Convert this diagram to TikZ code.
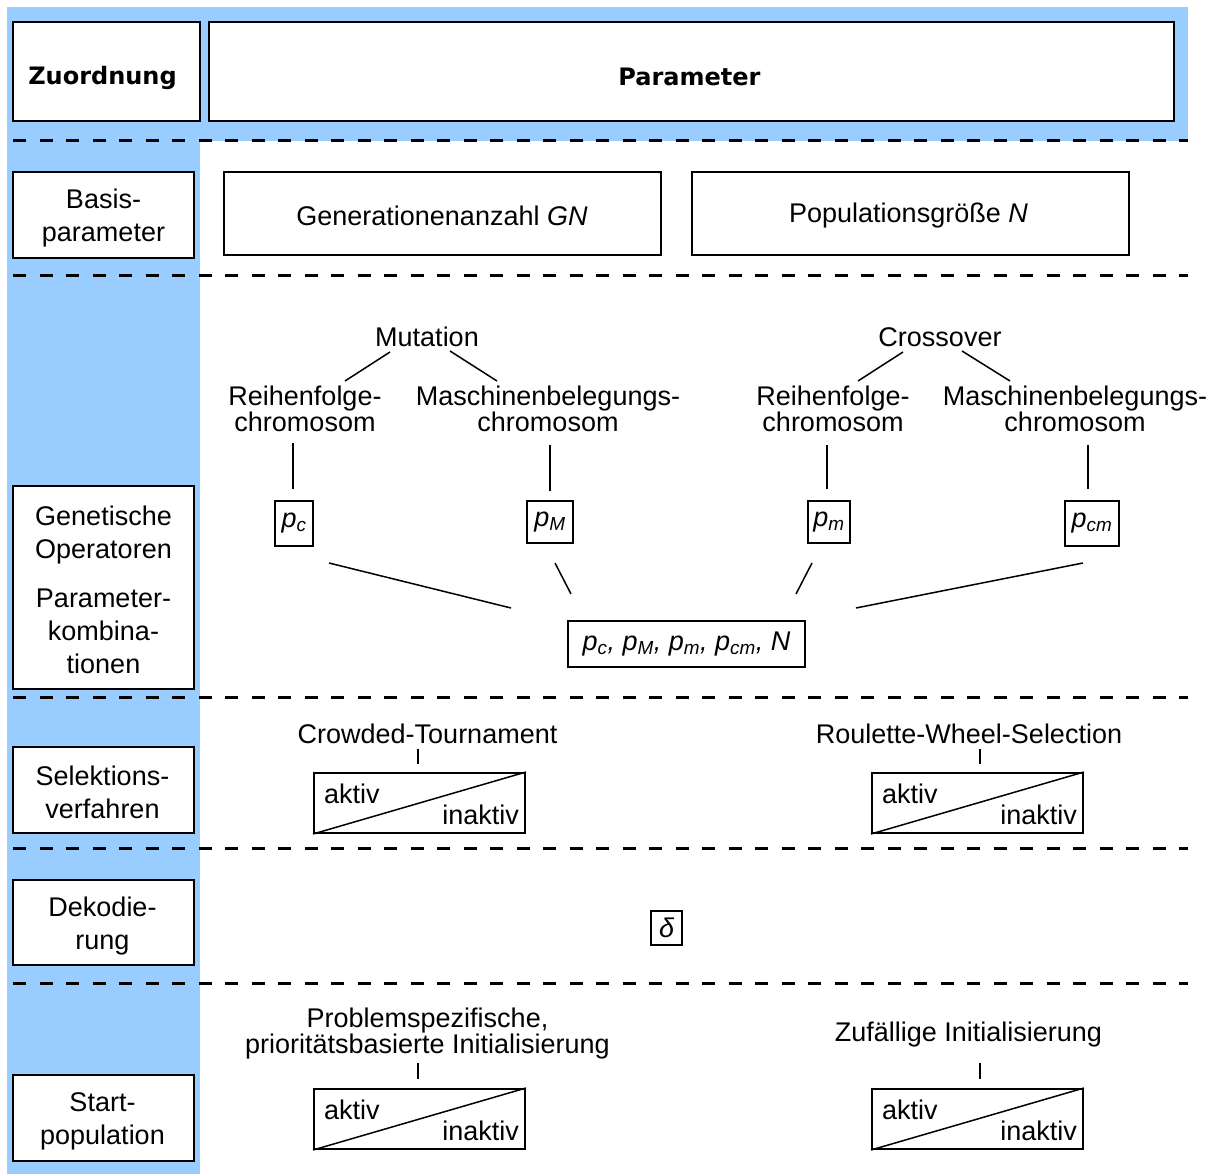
\documentclass[tikz,border=0pt]{standalone}
\usepackage{fontspec}
\setmainfont{Liberation Sans}
\newfontfamily\hdfont{DejaVu Sans}
\definecolor{bandblue}{RGB}{153,204,255}
\tikzset{
 every node/.style={inner sep=0pt, font=\fontsize{27}{33}\selectfont},
 labelbox/.style={draw, line width=2pt, fill=white, minimum width=181pt},
 labeltext/.style={align=center},
 headbox/.style={draw, line width=2.5pt, fill=white, minimum height=99pt},
 headtext/.style={font=\hdfont\bfseries\fontsize{24}{28}\selectfont},
 parbox/.style={draw, line width=2pt, minimum height=83pt, minimum width=437pt},
 sep/.style={dash pattern=on 13pt off 13.5pt, line width=3pt},
 conn/.style={line width=1.5pt},
 pbox/.style={draw, line width=1.8pt, font=\itshape\fontsize{27}{33}\selectfont},
 toggle/.style={draw, line width=2pt, minimum width=211pt, minimum height=60pt},
 tight/.style={align=center, font=\fontsize{27}{24}\selectfont},
}
\begin{document}
\begin{tikzpicture}[x=1pt,y=-1pt]
\useasboundingbox[fill=white] (0,0) rectangle (1216,1174);
% blue background
\fill[bandblue] (7,7) rectangle (1188,141);
\fill[bandblue] (7,141) rectangle (200,1174);
% header
\node[headbox, minimum width=187pt] (hz) at (106.5,71.5) {};
\node[headbox, minimum width=965pt] (hp) at (691.5,71.5) {};
\node[headtext] (hzt) at (102.5,78) {Zuordnung};
\node[headtext] (hpt) at (689.5,77) {Parameter};
% separators
\foreach \yy in {141,276,697,848,983} \draw[sep] (13,\yy) -- (1188,\yy);
% left labels
\node[labelbox, minimum height=86pt] (lb1) at (103.5,215) {};
\node[labeltext] (lt1) at (103.5,218) {Basis-\\parameter};
\node[labelbox, minimum height=203pt] (lb2) at (103.5,587.5) {};
\node[labeltext] (lt2) at (103.5,590) {Genetische\\Operatoren\\[16pt]Parameter-\\kombina-\\tionen};
\node[labelbox, minimum height=86pt] (lb3) at (103.5,790) {};
\node[labeltext] (lt3) at (102.5,792.5) {Selektions-\\verfahren};
\node[labelbox, minimum height=85pt] (lb4) at (103.5,922.5) {};
\node[labeltext] (lt4) at (102.5,926) {Dekodie-\\rung};
\node[labelbox, minimum height=86pt] (lb5) at (103.5,1118) {};
\node[labeltext] (lt5) at (102.5,1121) {Start-\\population};
% basis parameters
\node[parbox] (gn) at (442.5,213.5) {};
\node (gnt) at (442,216) {Generationenanzahl \textit{GN}};
\node[parbox] (pn) at (910,213.5) {};
\node (pnt) at (908.5,216) {Populationsgröße \textit{N}};
% genetic operators
\node (mut) at (427,337) {Mutation};
\node (cro) at (940,337) {Crossover};
\node[tight] (mrf) at (305,409) {Reihenfolge-\\chromosom};
\node[tight] (mmb) at (548,409) {Maschinenbelegungs-\\chromosom};
\node[tight] (crf) at (833,409) {Reihenfolge-\\chromosom};
\node[tight] (cmb) at (1075,409) {Maschinenbelegungs-\\chromosom};
\coordinate (m1a) at (390,352); \coordinate (m1b) at (345,381);
\coordinate (m2a) at (450,351); \coordinate (m2b) at (497,381);
\coordinate (c1a) at (903,352); \coordinate (c1b) at (858,381);
\coordinate (c2a) at (962,351); \coordinate (c2b) at (1010,381);
\draw[conn] (m1a) -- (m1b);
\draw[conn] (m2a) -- (m2b);
\draw[conn] (c1a) -- (c1b);
\draw[conn] (c2a) -- (c2b);
\node[pbox, minimum width=38pt, minimum height=45pt] (pc) at (294,523.5) {p\textsubscript{c}};
\node[pbox, minimum width=46pt, minimum height=42pt] (pM) at (550,522) {p\textsubscript{M}};
\node[pbox, minimum width=42pt, minimum height=42pt] (pm) at (829,522) {p\textsubscript{m}};
\node[pbox, minimum width=54pt, minimum height=45pt] (pcm) at (1092,523.5) {p\textsubscript{cm}};
\draw[conn] ([xshift=-1pt,yshift=11pt]pc.north) -- ++(0,-46);
\draw[conn] ([yshift=9pt]pM.north) -- ++(0,-46);
\draw[conn] ([xshift=-2pt,yshift=11pt]pm.north) -- ++(0,-44);
\draw[conn] ([xshift=-4pt,yshift=11pt]pcm.north) -- ++(0,-44);
\node[pbox, minimum width=237pt, minimum height=46pt] (comb) at (686.5,644) {p\textsubscript{c}, p\textsubscript{M}, p\textsubscript{m}, p\textsubscript{cm}, N};
\coordinate (s1a) at (329,563); \coordinate (s1b) at (511,608);
\coordinate (s2a) at (555,563); \coordinate (s2b) at (571,594);
\coordinate (s3a) at (812,563); \coordinate (s3b) at (796,594);
\coordinate (s4a) at (1083,563); \coordinate (s4b) at (856,608);
\draw[conn] (s1a) -- (s1b);
\draw[conn] (s2a) -- (s2b);
\draw[conn] (s3a) -- (s3b);
\draw[conn] (s4a) -- (s4b);
% selection
\node (ctt) at (427.5,734) {Crowded-Tournament};
\node (rwt) at (969,734) {Roulette-Wheel-Selection};
\node[toggle] (sel1) at (419.5,803) {};
\node[toggle] (sel2) at (977.5,803) {};
\foreach \b in {sel1,sel2}{
  \draw[conn] (\b.south west) -- (\b.north east);
  \node[anchor=west] at ([xshift=11pt,yshift=9pt]\b.west) {aktiv};
  \node[anchor=east] at ([xshift=-7pt,yshift=-12pt]\b.east) {inaktiv};
}
\draw[conn] ([xshift=-1.5pt,yshift=8pt]sel1.north) -- ++(0,-15);
\draw[conn] ([xshift=2.5pt,yshift=8pt]sel2.north) -- ++(0,-15);
% decoding
\node[pbox, minimum width=31pt, minimum height=34pt] (dlt) at (666.5,928) {δ};
% start population
\node[align=center, font=\fontsize{27}{26}\selectfont] (pst) at (427.5,1034) {Problemspezifische,\\prioritätsbasierte Initialisierung};
\node (zit) at (968.5,1035) {Zufällige Initialisierung};
\node[toggle] (st1) at (419.5,1119) {};
\node[toggle] (st2) at (977.5,1119) {};
\foreach \b in {st1,st2}{
  \draw[conn] (\b.south west) -- (\b.north east);
  \node[anchor=west] at ([xshift=11pt,yshift=9pt]\b.west) {aktiv};
  \node[anchor=east] at ([xshift=-7pt,yshift=-12pt]\b.east) {inaktiv};
}
\draw[conn] ([xshift=-1.5pt,yshift=9pt]st1.north) -- ++(0,-16);
\draw[conn] ([xshift=2.5pt,yshift=9pt]st2.north) -- ++(0,-16);
\end{tikzpicture}
\end{document}
